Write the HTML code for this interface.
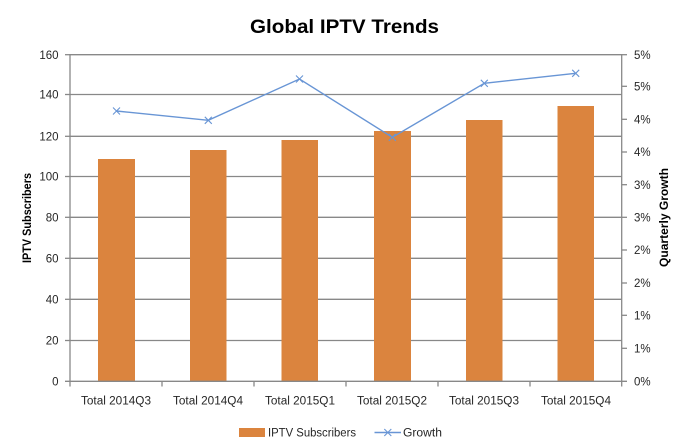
<!DOCTYPE html>
<html>
<head>
<meta charset="utf-8">
<style>
html,body{margin:0;padding:0;background:#fff;}
svg{display:block;}
text{font-family:"Liberation Sans",sans-serif;fill:#262626;}
</style>
</head>
<body>
<svg width="689" height="447" viewBox="0 0 689 447" xmlns="http://www.w3.org/2000/svg">
  <rect x="0" y="0" width="689" height="447" fill="#fff"/>
  <!-- Title -->
  <text x="344.5" y="33" text-anchor="middle" font-size="19" font-weight="bold" style="fill:#000" textLength="189" lengthAdjust="spacingAndGlyphs">Global IPTV Trends</text>

  <!-- Gridlines -->
  <g stroke="#888" stroke-width="1.3">
    <line x1="70" y1="54.7" x2="622" y2="54.7"/>
    <line x1="70" y1="94.5" x2="622" y2="94.5"/>
    <line x1="70" y1="136.3" x2="622" y2="136.3"/>
    <line x1="70" y1="176.5" x2="622" y2="176.5"/>
    <line x1="70" y1="217.3" x2="622" y2="217.3"/>
    <line x1="70" y1="258.3" x2="622" y2="258.3"/>
    <line x1="70" y1="299.3" x2="622" y2="299.3"/>
    <line x1="70" y1="340.5" x2="622" y2="340.5"/>
  </g>

  <!-- Bars -->
  <g fill="#DB843E">
    <rect x="98" y="159" width="37" height="222.3"/>
    <rect x="190" y="150" width="36.5" height="231.3"/>
    <rect x="281.5" y="140" width="36.5" height="241.3"/>
    <rect x="374" y="131" width="37" height="250.3"/>
    <rect x="466" y="120" width="36.5" height="261.3"/>
    <rect x="557.5" y="106" width="36.5" height="275.3"/>
  </g>

  <!-- Axes -->
  <g stroke="#888" stroke-width="1.3">
    <line x1="70" y1="54" x2="70" y2="381.3"/>
    <line x1="621.7" y1="54" x2="621.7" y2="381.3"/>
    <line x1="65" y1="381.3" x2="627" y2="381.3"/>
    <line x1="65" y1="54.7" x2="70" y2="54.7"/>
    <line x1="65" y1="94.5" x2="70" y2="94.5"/>
    <line x1="65" y1="136.3" x2="70" y2="136.3"/>
    <line x1="65" y1="176.5" x2="70" y2="176.5"/>
    <line x1="65" y1="217.3" x2="70" y2="217.3"/>
    <line x1="65" y1="258.3" x2="70" y2="258.3"/>
    <line x1="65" y1="299.3" x2="70" y2="299.3"/>
    <line x1="65" y1="340.5" x2="70" y2="340.5"/>
    <line x1="621.7" y1="54.7" x2="627" y2="54.7"/>
    <line x1="621.7" y1="86.3" x2="627" y2="86.3"/>
    <line x1="621.7" y1="119.3" x2="627" y2="119.3"/>
    <line x1="621.7" y1="152" x2="627" y2="152"/>
    <line x1="621.7" y1="184.7" x2="627" y2="184.7"/>
    <line x1="621.7" y1="217.3" x2="627" y2="217.3"/>
    <line x1="621.7" y1="250" x2="627" y2="250"/>
    <line x1="621.7" y1="283" x2="627" y2="283"/>
    <line x1="621.7" y1="315.3" x2="627" y2="315.3"/>
    <line x1="621.7" y1="348.3" x2="627" y2="348.3"/>
    <line x1="70" y1="381.3" x2="70" y2="386.5"/>
    <line x1="162" y1="381.3" x2="162" y2="386.5"/>
    <line x1="254" y1="381.3" x2="254" y2="386.5"/>
    <line x1="346" y1="381.3" x2="346" y2="386.5"/>
    <line x1="438" y1="381.3" x2="438" y2="386.5"/>
    <line x1="530" y1="381.3" x2="530" y2="386.5"/>
    <line x1="621.7" y1="381.3" x2="621.7" y2="386.5"/>
  </g>

  <!-- Growth line -->
  <polyline points="116.5,111 208.3,120.3 299.5,79 392.3,137.3 484.3,83.3 575.7,73.3" fill="none" stroke="#6895D5" stroke-width="1.4"/>
  <g stroke="#6895D5" stroke-width="1.1">
    <path d="M113,107.5 L120,114.5 M113,114.5 L120,107.5"/>
    <path d="M204.8,116.8 L211.8,123.8 M204.8,123.8 L211.8,116.8"/>
    <path d="M296,75.5 L303,82.5 M296,82.5 L303,75.5"/>
    <path d="M388.8,133.8 L395.8,140.8 M388.8,140.8 L395.8,133.8"/>
    <path d="M480.8,79.8 L487.8,86.8 M480.8,86.8 L487.8,79.8"/>
    <path d="M572.2,69.8 L579.2,76.8 M572.2,76.8 L579.2,69.8"/>
  </g>

  <!-- Left axis labels -->
  <g font-size="11.5" text-anchor="end">
    <text x="58.5" y="58.8">160</text>
    <text x="58.5" y="98.6">140</text>
    <text x="58.5" y="140.4">120</text>
    <text x="58.5" y="180.6">100</text>
    <text x="58.5" y="221.4">80</text>
    <text x="58.5" y="262.4">60</text>
    <text x="58.5" y="303.4">40</text>
    <text x="58.5" y="344.6">20</text>
    <text x="58.5" y="385.4">0</text>
  </g>

  <!-- Right axis labels -->
  <g font-size="11.5" text-anchor="start">
    <text x="634" y="58.8">5%</text>
    <text x="634" y="90.4">5%</text>
    <text x="634" y="123.4">4%</text>
    <text x="634" y="156.1">4%</text>
    <text x="634" y="188.8">3%</text>
    <text x="634" y="221.4">3%</text>
    <text x="634" y="254.1">2%</text>
    <text x="634" y="287.1">2%</text>
    <text x="634" y="319.4">1%</text>
    <text x="634" y="352.4">1%</text>
    <text x="634" y="385.4">0%</text>
  </g>

  <!-- Category labels -->
  <g font-size="11.5" text-anchor="middle">
    <text x="116" y="404.5" textLength="70" lengthAdjust="spacingAndGlyphs">Total 2014Q3</text>
    <text x="208" y="404.5" textLength="70" lengthAdjust="spacingAndGlyphs">Total 2014Q4</text>
    <text x="300" y="404.5" textLength="70" lengthAdjust="spacingAndGlyphs">Total 2015Q1</text>
    <text x="392" y="404.5" textLength="70" lengthAdjust="spacingAndGlyphs">Total 2015Q2</text>
    <text x="484" y="404.5" textLength="70" lengthAdjust="spacingAndGlyphs">Total 2015Q3</text>
    <text x="576" y="404.5" textLength="70" lengthAdjust="spacingAndGlyphs">Total 2015Q4</text>
  </g>

  <!-- Axis titles -->
  <text transform="translate(31,218) rotate(-90)" text-anchor="middle" font-size="11.5" font-weight="bold" style="fill:#000" textLength="90" lengthAdjust="spacingAndGlyphs">IPTV Subscribers</text>
  <text transform="translate(668,217.5) rotate(-90)" text-anchor="middle" font-size="11.5" font-weight="bold" style="fill:#000" textLength="99" lengthAdjust="spacingAndGlyphs">Quarterly Growth</text>

  <!-- Legend -->
  <rect x="239" y="428" width="26" height="9" fill="#DB843E"/>
  <text x="268" y="436.5" font-size="11.5" textLength="88" lengthAdjust="spacingAndGlyphs">IPTV Subscribers</text>
  <line x1="374.5" y1="432.5" x2="401" y2="432.5" stroke="#6895D5" stroke-width="1.4"/>
  <path d="M384.3,429 L391.3,436 M384.3,436 L391.3,429" stroke="#6895D5" stroke-width="1.1"/>
  <text x="403" y="436.5" font-size="11.5" textLength="39" lengthAdjust="spacingAndGlyphs">Growth</text>
</svg>
</body>
</html>
